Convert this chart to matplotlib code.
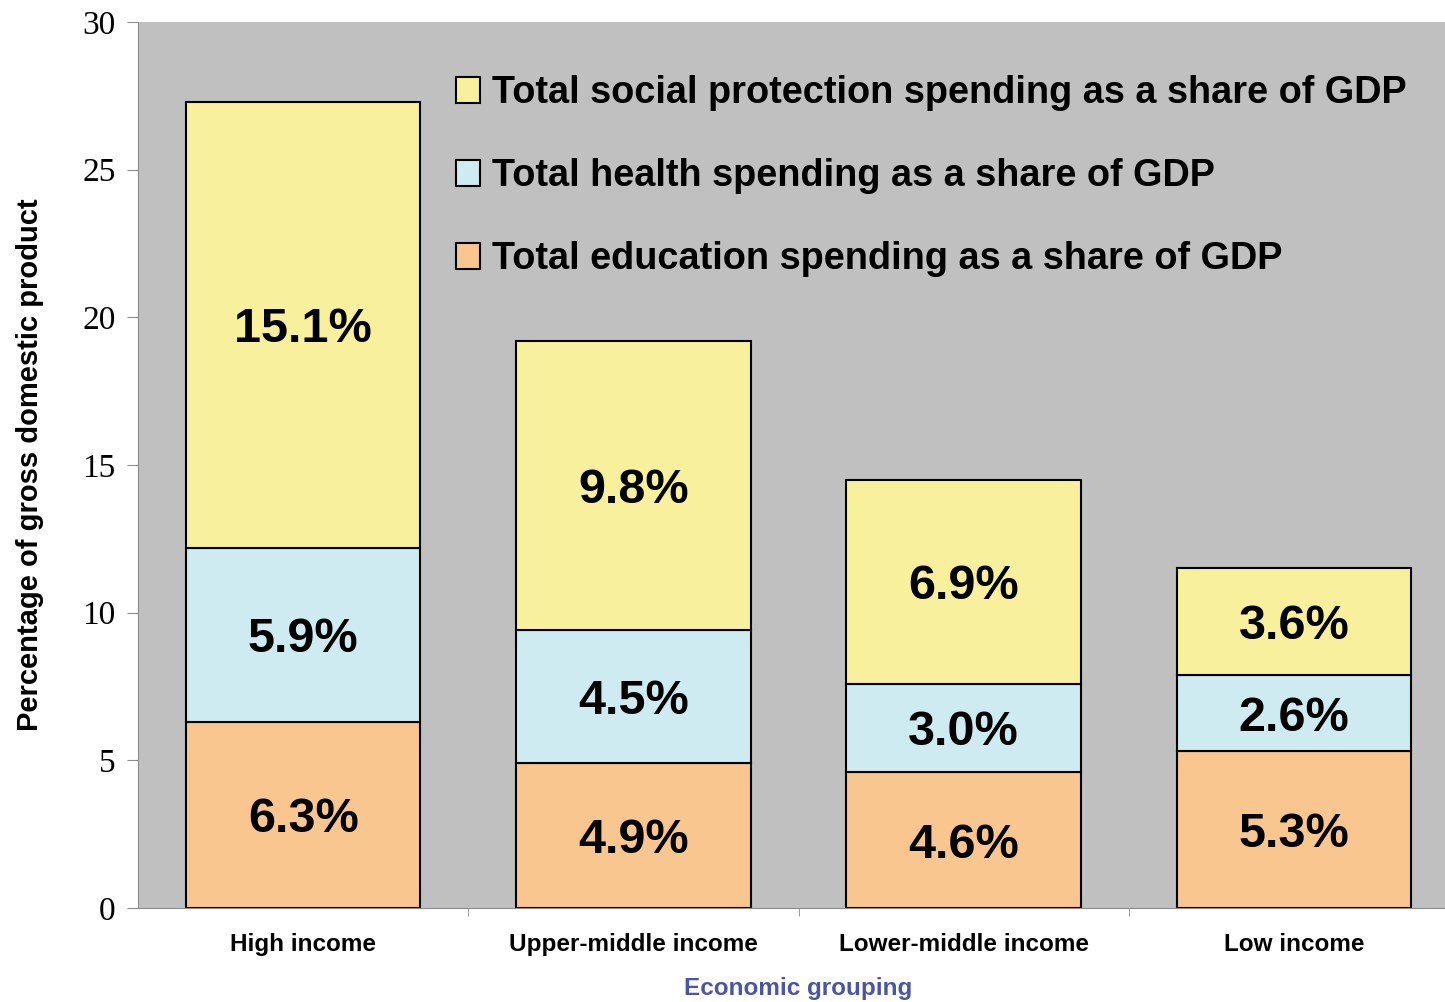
import matplotlib
matplotlib.use("Agg")
import matplotlib.pyplot as plt
from matplotlib.patches import Patch

# Datos
groups = ["High income", "Upper-middle income", "Lower-middle income", "Low income"]
education = [6.3, 4.9, 4.6, 5.3]
health = [5.9, 4.5, 3.0, 2.6]
social = [15.1, 9.8, 6.9, 3.6]

series_names = [
    "Total social protection spending as a share of GDP",
    "Total health spending as a share of GDP",
    "Total education spending as a share of GDP",
]
yticks = [0, 5, 10, 15, 20, 25, 30]

C_EDU = "#FAC690"
C_HEALTH = "#CFEBF2"
C_SOCIAL = "#F8F09C"
BG = "#C0C0C0"
SPINE = "#8C8C8C"

fig = plt.figure(figsize=(14.45, 10.02), dpi=100)
ax = fig.add_axes([138 / 1445, 1 - 908 / 1002, (1459 - 138) / 1445, (908 - 22) / 1002])
ax.set_facecolor(BG)

x = list(range(len(groups)))
w = 0.71
bot2 = [e + h for e, h in zip(education, health)]
b1 = ax.bar(x, education, w, color=C_EDU, edgecolor="black", linewidth=1.5)
b2 = ax.bar(x, health, w, bottom=education, color=C_HEALTH, edgecolor="black", linewidth=1.5)
b3 = ax.bar(x, social, w, bottom=bot2, color=C_SOCIAL, edgecolor="black", linewidth=1.5)

for bars, vals in ((b1, education), (b2, health), (b3, social)):
    for rect, v in zip(bars, vals):
        ax.text(rect.get_x() + rect.get_width() / 2, rect.get_y() + rect.get_height() / 2,
                f"{v:.1f}%", ha="center", va="center_baseline", fontsize=35,
                fontweight="bold", family="Liberation Sans")

ax.set_xlim(-0.5, 3.5)
ax.set_ylim(0, 30)
ax.set_yticks(yticks)
ax.set_yticklabels([str(t) for t in yticks], family="Liberation Serif", fontsize=24)
ax.set_xticks(x)
ax.set_xticklabels(groups, family="Liberation Sans", fontweight="bold", fontsize=17.5)
ax.set_xticks([0.5, 1.5, 2.5], minor=True)
ax.tick_params(axis="x", which="major", length=0, pad=18)
ax.tick_params(axis="x", which="minor", length=6, color=SPINE)
ax.tick_params(axis="y", length=8, color=SPINE, pad=8)

for s in ("top", "right"):
    ax.spines[s].set_visible(False)
ax.spines["left"].set_color(SPINE)
ax.spines["bottom"].set_color(SPINE)
ax.spines["bottom"].set_bounds(-0.5, 3.5)

ax.set_ylabel("Percentage of gross domestic product", family="Liberation Sans",
              fontweight="bold", fontsize=21, labelpad=28)
ax.set_xlabel("Economic grouping", family="Liberation Sans", fontweight="bold",
              fontsize=17.5, color="#4A55A8", labelpad=15)

handles = [Patch(facecolor=c, edgecolor="black", linewidth=1.5) for c in (C_SOCIAL, C_HEALTH, C_EDU)]
ax.legend(handles, series_names, loc="upper left", bbox_to_anchor=(0.229, 0.957),
          frameon=False, prop={"family": "Liberation Sans", "weight": "bold", "size": 27.3},
          handlelength=0.65, handleheight=0.65, handletextpad=0.3, labelspacing=1.24,
          borderaxespad=0)

fig.savefig("out.png", dpi=100)
plt.close(fig)
